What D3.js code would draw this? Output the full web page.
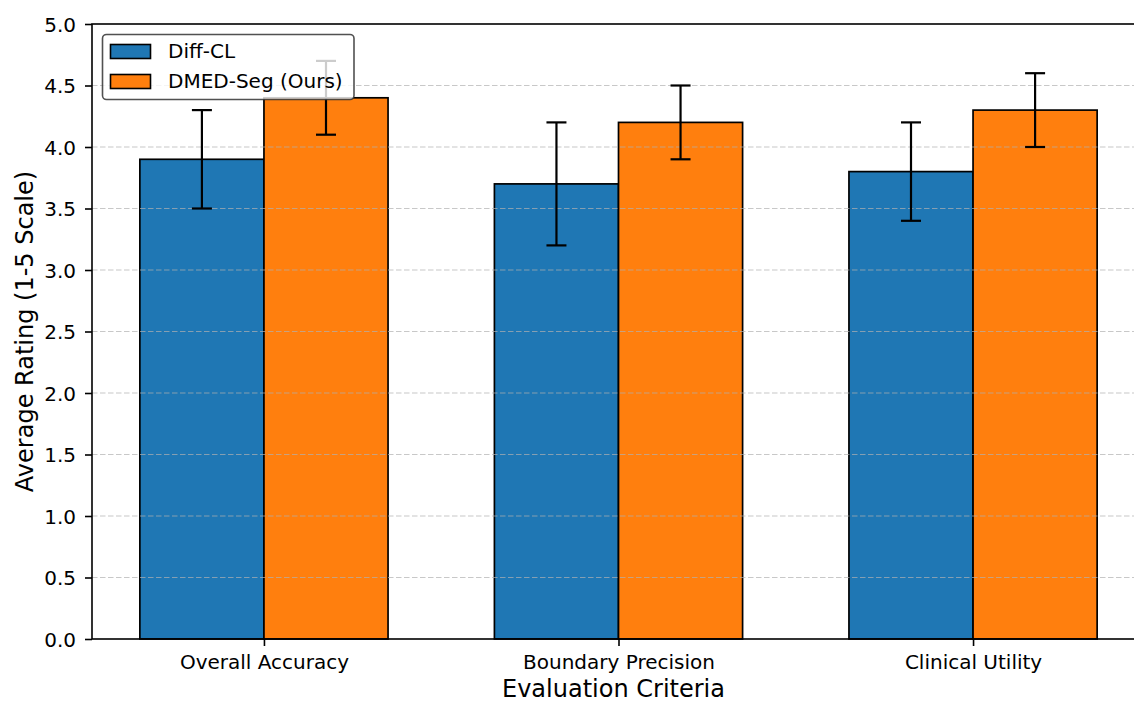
<!DOCTYPE html>
<html>
<head>
<meta charset="utf-8">
<script src="https://cdn.jsdelivr.net/npm/d3@7"></script>
<style>
  body { margin: 0; background: #fff; }
  svg { display: block; font-family: "DejaVu Sans", sans-serif; }
</style>
</head>
<body>
<div id="chart"></div>
<script>
// data
const criteria = ['Overall Accuracy', 'Boundary Precision', 'Clinical Utility'];
const seriesNames = ['Diff-CL', 'DMED-Seg (Ours)'];
const diffMeans = [3.9, 3.7, 3.8];
const diffErr = [0.4, 0.5, 0.4];
const dmedMeans = [4.4, 4.2, 4.3];
const dmedErr = [0.3, 0.3, 0.3];
const yTicks = [0, 0.5, 1, 1.5, 2, 2.5, 3, 3.5, 4, 4.5, 5];
const colors = ['#1f77b4', '#ff7f0e'];

const W = 1134, H = 702;
const barW = 0.35;

const series = [
    { name: seriesNames[0], color: colors[0], offset: -barW / 2, means: diffMeans, errs: diffErr },
    { name: seriesNames[1], color: colors[1], offset: barW / 2, means: dmedMeans, errs: dmedErr }
];

let svg = d3.select('#chart')
    .append('svg')
    .attr('width', W)
    .attr('height', H);

// axes box (right edge falls outside the picture, as in the reference)
let plot = { left: 92, right: 1145, top: 24, bottom: 639 };

let x = d3.scaleLinear()
    .domain([-0.485, 2.485])
    .range([plot.left, plot.right]);
let y = d3.scaleLinear()
    .domain([0, 5])
    .range([plot.bottom, plot.top]);

// bars
let bars = svg.append('g').classed('bars', true);
series.forEach((s, k) => {
    bars.selectAll('.bar-s' + k)
        .data(s.means)
        .enter()
        .append('rect')
        .classed('bar-s' + k, true)
        .attr('x', (d, i) => x(i + s.offset - barW / 2))
        .attr('y', d => y(d))
        .attr('width', x(barW) - x(0))
        .attr('height', d => y(0) - y(d))
        .style('fill', s.color)
        .style('stroke', '#000')
        .style('stroke-width', 1.7);
});

// grid over the bars
svg.append('g')
    .classed('grid', true)
    .selectAll('line')
    .data(yTicks.filter(t => t > 0 && t < 5))
    .enter()
    .append('line')
    .attr('x1', plot.left)
    .attr('x2', plot.right)
    .attr('y1', d => y(d))
    .attr('y2', d => y(d))
    .style('stroke', '#b0b0b0')
    .style('stroke-opacity', 0.7)
    .style('stroke-width', 1.2)
    .style('stroke-dasharray', '5.5,2.5');

// error bars
let errs = svg.append('g').classed('errorbars', true);
series.forEach(s => {
    s.means.forEach((m, i) => {
        let cx = x(i + s.offset);
        let lo = y(m - s.errs[i]), hi = y(m + s.errs[i]);
        errs.append('line')
            .attr('x1', cx).attr('x2', cx)
            .attr('y1', lo).attr('y2', hi);
        [lo, hi].forEach(v => {
            errs.append('line')
                .attr('x1', cx - 10).attr('x2', cx + 10)
                .attr('y1', v).attr('y2', v);
        });
    });
});
errs.selectAll('line')
    .style('stroke', '#000')
    .style('stroke-width', 2.2);

// axes
let yAxis = d3.axisLeft(y)
    .tickValues(yTicks)
    .tickFormat(d3.format('.1f'))
    .tickSize(7)
    .tickPadding(9);
let yAxisGroup = svg.append('g')
    .attr('transform', `translate(${plot.left},0)`)
    .call(yAxis);

let xAxis = d3.axisBottom(x)
    .tickValues([0, 1, 2])
    .tickFormat(i => criteria[i])
    .tickSize(7)
    .tickPadding(9);
let xAxisGroup = svg.append('g')
    .attr('transform', `translate(0,${plot.bottom})`)
    .call(xAxis);

[xAxisGroup, yAxisGroup].forEach(g => {
    g.select('.domain').remove();
    g.selectAll('.tick line').style('stroke', '#000').style('stroke-width', 1.6);
    g.selectAll('.tick text')
        .style('font-size', '20px')
        .style('fill', '#000')
        .style('font-family', '"DejaVu Sans", sans-serif');
});
yAxisGroup.selectAll('.tick text').attr('dy', '0.36em');

// spines
svg.append('rect')
    .attr('x', plot.left)
    .attr('y', plot.top)
    .attr('width', plot.right - plot.left)
    .attr('height', plot.bottom - plot.top)
    .style('fill', 'none')
    .style('stroke', '#000')
    .style('stroke-width', 1.6);

// axis labels
svg.append('text')
    .attr('x', (plot.left + plot.right) / 2 - 5)
    .attr('y', 697)
    .style('text-anchor', 'middle')
    .style('font-size', '24px')
    .text('Evaluation Criteria');

svg.append('text')
    .attr('transform', `translate(33,${(plot.top + plot.bottom) / 2}) rotate(-90)`)
    .style('text-anchor', 'middle')
    .style('font-size', '24px')
    .text('Average Rating (1-5 Scale)');

// legend
let legend = svg.append('g').classed('legend', true);
legend.append('rect')
    .attr('x', 102.5)
    .attr('y', 34.5)
    .attr('width', 251.5)
    .attr('height', 65)
    .attr('rx', 4)
    .style('fill', '#fff')
    .style('fill-opacity', 0.8)
    .style('stroke', '#333')
    .style('stroke-opacity', 0.85)
    .style('stroke-width', 1.6);
let items = legend.selectAll('.item')
    .data(series)
    .enter()
    .append('g')
    .classed('item', true)
    .attr('transform', (d, i) => `translate(0,${i * 30})`);
items.append('rect')
    .attr('x', 110.5)
    .attr('y', 44.5)
    .attr('width', 40)
    .attr('height', 14)
    .style('fill', d => d.color)
    .style('stroke', '#000')
    .style('stroke-width', 1.6);
items.append('text')
    .attr('x', 168)
    .attr('y', 57.5)
    .style('font-size', '20px')
    .text(d => d.name);
</script>
</body>
</html>
